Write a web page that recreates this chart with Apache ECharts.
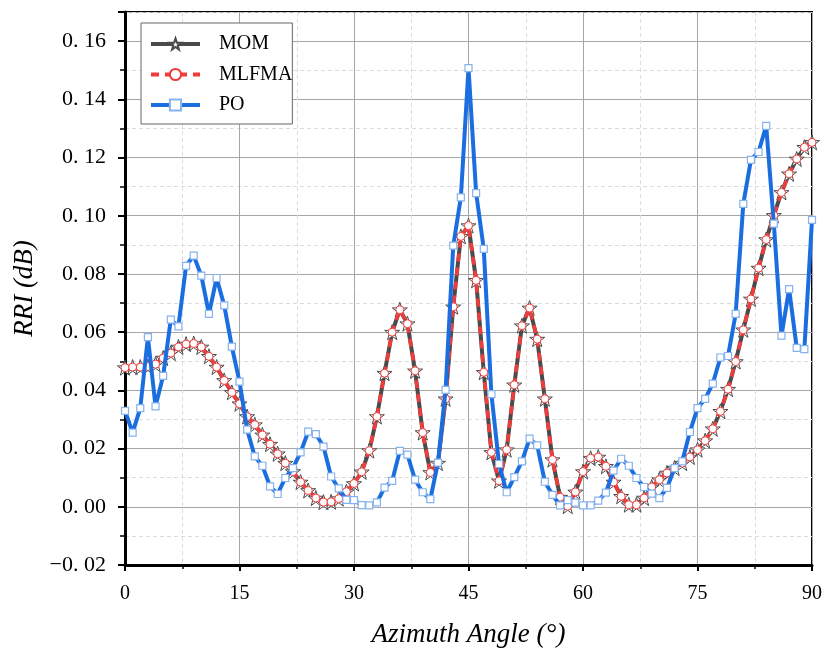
<!DOCTYPE html>
<html>
<head>
<meta charset="utf-8">
<script src="https://cdn.jsdelivr.net/npm/echarts@6/dist/echarts.min.js"></script>
<style>html,body{margin:0;padding:0;background:#fff;}#c{width:824px;height:654px;}</style>
</head>
<body>
<div id="c"></div>
<script>
const angles = [0,1,2,3,4,5,6,7,8,9,10,11,12,13,14,15,16,17,18,19,20,21,22,23,24,25,26,27,28,29,30,
  31,32,33,34,35,36,37,38,39,40,41,42,43,44,45,46,47,48,49,50,51,52,53,54,55,56,57,58,59,60,
  61,62,63,64,65,66,67,68,69,70,71,72,73,74,75,76,77,78,79,80,81,82,83,84,85,86,87,88,89,90];

const momValues = [0.0478,0.0480,0.0480,0.0482,0.0490,0.0511,0.0528,0.0549,0.0559,0.0561,
  0.0549,0.0517,0.0480,0.0434,0.0393,0.0354,0.0310,0.0282,0.0247,0.0215,
  0.0182,0.0150,0.0121,0.0085,0.0056,0.0030,0.0016,0.0017,0.0028,0.0052,
  0.0080,0.0120,0.0193,0.0310,0.0459,0.0600,0.0677,0.0629,0.0467,0.0255,
  0.0118,0.0150,0.0371,0.0687,0.0929,0.0966,0.0778,0.0462,0.0187,0.0089,
  0.0196,0.0419,0.0622,0.0683,0.0576,0.0371,0.0162,0.0033,0.0002,0.0051,
  0.0121,0.0167,0.0171,0.0139,0.0085,0.0036,0.0007,0.0007,0.0030,0.0068,
  0.0093,0.0116,0.0133,0.0150,0.0171,0.0196,0.0227,0.0268,0.0328,0.0404,
  0.0499,0.0608,0.0714,0.0820,0.0918,0.1001,0.1080,0.1144,0.1195,0.1235,0.1252];

const mlfmaValues = [0.0478,0.0480,0.0480,0.0482,0.0490,0.0511,0.0528,0.0549,0.0559,0.0561,
  0.0549,0.0517,0.0480,0.0434,0.0393,0.0354,0.0310,0.0282,0.0247,0.0215,
  0.0182,0.0150,0.0121,0.0085,0.0056,0.0030,0.0016,0.0017,0.0028,0.0052,
  0.0080,0.0120,0.0193,0.0310,0.0459,0.0600,0.0677,0.0629,0.0467,0.0255,
  0.0118,0.0150,0.0371,0.0687,0.0929,0.0966,0.0778,0.0462,0.0187,0.0089,
  0.0196,0.0419,0.0622,0.0683,0.0576,0.0371,0.0162,0.0033,0.0002,0.0051,
  0.0121,0.0167,0.0171,0.0139,0.0085,0.0036,0.0007,0.0007,0.0030,0.0068,
  0.0093,0.0116,0.0133,0.0150,0.0171,0.0196,0.0227,0.0268,0.0328,0.0404,
  0.0499,0.0608,0.0714,0.0820,0.0918,0.1001,0.1080,0.1144,0.1195,0.1235,0.1252];

const poValues = [0.0330,0.0255,0.0339,0.0583,0.0345,0.0450,0.0643,0.0620,0.0828,0.0863,
  0.0794,0.0663,0.0786,0.0692,0.0550,0.0430,0.0265,0.0173,0.0141,0.0070,
  0.0044,0.0099,0.0133,0.0187,0.0258,0.0250,0.0207,0.0104,0.0063,0.0024,
  0.0023,0.0006,0.0005,0.0015,0.0066,0.0089,0.0192,0.0179,0.0093,0.0050,
  0.0026,0.0152,0.0402,0.0897,0.1063,0.1507,0.1078,0.0886,0.0387,0.0147,
  0.0050,0.0102,0.0156,0.0234,0.0211,0.0086,0.0041,0.0005,0.0023,0.0014,
  0.0005,0.0005,0.0021,0.0049,0.0124,0.0165,0.0141,0.0099,0.0068,0.0045,
  0.0030,0.0065,0.0133,0.0156,0.0257,0.0339,0.0371,0.0423,0.0513,0.0518,
  0.0663,0.1041,0.1192,0.1219,0.1309,0.0973,0.0588,0.0748,0.0546,0.0542,0.0986];

const seriesNames = ['MOM', 'MLFMA', 'PO'];
const xTitle = 'Azimuth Angle (°)';
const yTitle = 'RRI (dB)';

const pair = vals => angles.map((a, i) => [a, vals[i]]);
const STAR = 'path://M50,2 L61.8,36.2 L97.6,36.2 L68.6,57.6 L79.4,92 L50,71 L20.6,92 L31.4,57.6 L2.4,36.2 L38.2,36.2 Z';
const FONT = '"Liberation Serif", "DejaVu Serif", serif';

const chart = echarts.init(document.getElementById('c'), null, {renderer: 'canvas'});
chart.setOption({
  animation: false,
  backgroundColor: '#fff',
  grid: {left: 125, right: 12, top: 12, bottom: 89, containLabel: false, outerBoundsMode: 'none',
    show: true, borderColor: '#000', borderWidth: 2, backgroundColor: 'transparent'},
  legend: {
    orient: 'vertical', left: 141, top: 23,
    data: seriesNames,
    backgroundColor: '#fff',
    borderColor: '#666', borderWidth: 1,
    padding: [11, 0, 9, 8],
    itemWidth: 49, itemHeight: 14, itemGap: 10.5,
    lineStyle: {width: 4},
    textStyle: {fontFamily: FONT, fontSize: 20, color: '#000', padding: [0, 0, 0, 14]}
  },
  xAxis: {
    type: 'value', min: 0, max: 90, interval: 15,
    name: xTitle, nameLocation: 'middle', nameGap: 56,
    nameTextStyle: {fontFamily: FONT, fontStyle: 'italic', fontSize: 27, color: '#000'},
    axisLine: {show: true, onZero: false, lineStyle: {color: '#000', width: 3}},
    axisTick: {show: true, inside: false, length: 6, lineStyle: {color: '#000', width: 2}},
    minorTick: {show: true, splitNumber: 2, length: 4, lineStyle: {color: '#000', width: 1.5}},
    axisLabel: {fontFamily: FONT, fontSize: 20, color: '#000', margin: 19},
    splitLine: {show: true, lineStyle: {color: '#a6a6a6', width: 1}},
    minorSplitLine: {show: true, lineStyle: {color: '#dcdcdc', width: 1, type: [4, 3]}}
  },
  yAxis: {
    type: 'value', min: -0.02, max: 0.17, interval: 0.02,
    name: yTitle, nameLocation: 'middle', nameGap: 85,
    nameTextStyle: {fontFamily: FONT, fontStyle: 'italic', fontSize: 27, color: '#000'},
    axisLine: {show: true, onZero: false, lineStyle: {color: '#000', width: 3}},
    axisTick: {show: true, inside: false, length: 7, lineStyle: {color: '#000', width: 2}},
    minorTick: {show: true, splitNumber: 2, length: 5, lineStyle: {color: '#000', width: 1.5}},
    axisLabel: {
      fontFamily: FONT, fontSize: 22, color: '#000', margin: 19, showMaxLabel: false,
      formatter: v => v.toFixed(2).replace('.', '. ').replace('-', '\u2212')
    },
    splitLine: {show: true, lineStyle: {color: '#a6a6a6', width: 1}},
    minorSplitLine: {show: true, lineStyle: {color: '#dcdcdc', width: 1, type: [4, 3]}}
  },
  series: [
    {
      name: seriesNames[0], type: 'line', data: pair(momValues),
      symbol: STAR, symbolSize: 15, showAllSymbol: true,
      lineStyle: {color: '#4b4b4b', width: 4},
      itemStyle: {color: '#ffffff', borderColor: '#4b4b4b', borderWidth: 1},
      z: 2
    },
    {
      name: seriesNames[1], type: 'line', data: pair(mlfmaValues),
      symbol: 'circle', symbolSize: 8, showAllSymbol: true,
      lineStyle: {color: '#f23c3c', width: 3.5, type: [8, 6]},
      itemStyle: {color: '#ffffff', borderColor: '#f23c3c', borderWidth: 1},
      z: 3
    },
    {
      name: seriesNames[2], type: 'line', data: pair(poValues),
      symbol: 'rect', symbolSize: 7, showAllSymbol: true,
      lineStyle: {color: '#1b6ee0', width: 4},
      itemStyle: {color: '#ffffff', borderColor: '#86b2ee', borderWidth: 1.2},
      z: 4
    }
  ]
});
</script>
</body>
</html>
